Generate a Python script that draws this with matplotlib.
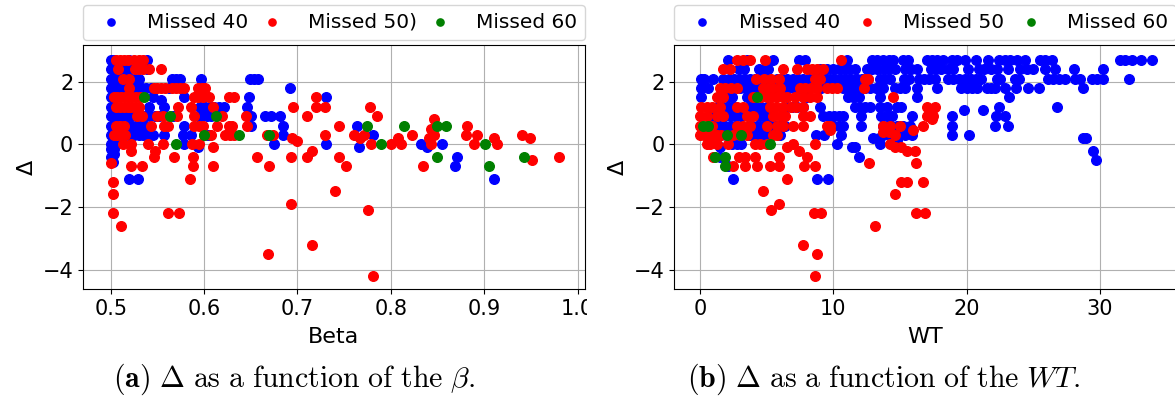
import matplotlib
matplotlib.use("Agg")
import matplotlib.pyplot as plt
from matplotlib.patches import Rectangle

plt.rcParams['mathtext.fontset'] = 'cm'

# ---------------- data (Delta value -> list of x positions) ----------------
# Left panel: Delta vs Beta
beta_missed40 = {
    2.7: [0.500, 0.503, 0.520, 0.539],
    2.4: [0.500, 0.503, 0.507, 0.511, 0.515, 0.519, 0.539],
    2.1: [0.500, 0.503, 0.506, 0.510, 0.514, 0.518, 0.522, 0.526, 0.530, 0.566, 0.570, 0.574, 0.597, 0.649, 0.653, 0.658],
    1.8: [0.500, 0.503, 0.506, 0.510, 0.514, 0.518, 0.522, 0.526, 0.530, 0.534, 0.538, 0.543, 0.562, 0.692],
    1.5: [0.500, 0.545, 0.579, 0.648, 0.731],
    1.4: [0.554],
    1.2: [0.500, 0.503, 0.541, 0.557, 0.596, 0.601, 0.606, 0.611, 0.616, 0.621, 0.646],
    0.9: [0.500, 0.503, 0.507, 0.512, 0.517, 0.522, 0.527, 0.532, 0.537, 0.542, 0.547, 0.552, 0.567, 0.593, 0.598, 0.603, 0.607, 0.650, 0.665, 0.672, 0.681],
    0.6: [0.500, 0.503, 0.518, 0.523, 0.528, 0.533, 0.538, 0.579, 0.650, 0.684, 0.764],
    0.3: [0.500, 0.503, 0.507, 0.511, 0.515, 0.520, 0.525, 0.530, 0.535, 0.540, 0.545, 0.557, 0.577, 0.586, 0.602, 0.605, 0.684, 0.781],
    0.0: [0.500, 0.503, 0.506, 0.579, 0.675, 0.731, 0.832, 0.855],
    -0.1: [0.593, 0.766, 0.839],
    -0.15: [0.500, 0.503],
    -0.3: [0.503],
    -0.4: [0.500, 0.871],
    -0.55: [0.502],
    -0.7: [0.869],
    -1.1: [0.520, 0.529, 0.910],
}
beta_missed50 = {
    2.7: [0.506, 0.510, 0.514, 0.518, 0.525, 0.530, 0.535],
    2.4: [0.508, 0.526, 0.530, 0.535, 0.541, 0.554],
    2.1: [0.513, 0.520],
    1.8: [0.520, 0.546, 0.550, 0.554, 0.558, 0.566, 0.570, 0.574, 0.579, 0.594, 0.598, 0.601],
    1.5: [0.503, 0.507, 0.511, 0.515, 0.519, 0.523, 0.527, 0.531, 0.589, 0.594, 0.599, 0.605, 0.627, 0.632, 0.720],
    1.2: [0.506, 0.510, 0.514, 0.518, 0.522, 0.526, 0.530, 0.572, 0.586, 0.610, 0.695, 0.720, 0.730, 0.778],
    0.9: [0.528, 0.533, 0.550, 0.556, 0.571, 0.589, 0.619, 0.645, 0.710, 0.785],
    0.8: [0.846],
    0.6: [0.506, 0.510, 0.514, 0.543, 0.557, 0.561, 0.589, 0.595, 0.599, 0.614, 0.627, 0.630, 0.646, 0.745, 0.882],
    0.5: [0.843],
    0.3: [0.503, 0.507, 0.511, 0.515, 0.600, 0.607, 0.622, 0.628, 0.632, 0.667, 0.674, 0.730, 0.761, 0.771, 0.823, 0.846, 0.881, 0.892, 0.940],
    0.2: [0.694, 0.767, 0.808, 0.841, 0.911, 0.949],
    0.1: [0.700],
    0.0: [0.513, 0.522, 0.540, 0.556, 0.587, 0.595, 0.779, 0.800, 0.811, 0.843, 0.889, 0.914],
    -0.1: [0.610],
    -0.2: [0.522, 0.547, 0.716],
    -0.4: [0.546, 0.568, 0.588, 0.657, 0.693, 0.710, 0.744, 0.980],
    -0.5: [0.951],
    -0.6: [0.500],
    -0.7: [0.522, 0.534, 0.588, 0.610, 0.669, 0.752, 0.835],
    -1.1: [0.585],
    -1.2: [0.502],
    -1.5: [0.740],
    -1.6: [0.502],
    -1.9: [0.693],
    -2.1: [0.776],
    -2.2: [0.502, 0.561, 0.573],
    -2.6: [0.511],
    -3.2: [0.716],
    -3.5: [0.668],
    -4.2: [0.781],
}
beta_missed60 = {
    1.5: [0.536],
    0.9: [0.563, 0.613],
    0.6: [0.774, 0.814, 0.849, 0.859],
    0.3: [0.600, 0.637, 0.669],
    0.0: [0.570, 0.789, 0.901],
    -0.4: [0.849, 0.943],
    -0.7: [0.905],
}

# Right panel: Delta vs WT
wt_missed40 = {
    2.7: [2.1, 3.5, 5.45, 7.4, 7.9, 11.0, 12.9, 13.3, 13.75, 14.2, 14.5, 15.2, 15.6, 17.0, 17.4, 17.8, 18.25, 18.9, 19.3, 19.9, 20.7, 21.6, 22.4, 22.9, 23.25, 23.75, 24.4, 25.5, 25.9, 26.4, 31.5, 31.9, 32.4, 33.1, 33.9],
    2.4: [2.9, 3.3, 4.4, 4.8, 5.1, 9.0, 9.5, 10.0, 10.4, 10.8, 11.2, 11.6, 12.5, 12.9, 13.3, 13.7, 14.1, 14.6, 15.4, 15.8, 16.3, 17.3, 17.7, 18.1, 18.6, 19.0, 20.1, 20.9, 21.3, 21.8, 22.25, 23.1, 24.0, 24.5, 25.0, 25.9, 26.6, 28.05, 30.2],
    2.1: [0.05, 0.3, 1.0, 1.75, 2.15, 2.55, 2.95, 3.35, 3.75, 4.15, 4.55, 5.0, 5.75, 6.15, 6.55, 6.95, 7.35, 7.75, 8.15, 8.55, 8.95, 9.35, 9.75, 10.15, 10.55, 10.95, 11.35, 11.75, 12.15, 12.6, 13.5, 13.9, 14.25, 15.3, 15.7, 16.4, 16.8, 17.2, 17.6, 18.6, 19.0, 19.4, 19.9, 20.3, 20.7, 21.1, 22.25, 22.5, 23.6, 23.9, 26.1, 26.5, 26.9, 27.4, 28.1, 28.5, 29.4, 29.8, 30.25, 32.2],
    1.8: [0.05, 0.6, 3.0, 3.4, 3.8, 4.2, 4.6, 5.0, 5.4, 6.3, 6.7, 7.1, 7.5, 9.1, 10.75, 11.15, 11.55, 11.95, 12.35, 12.75, 13.2, 13.75, 14.6, 15.0, 15.4, 16.25, 17.8, 19.6, 20.0, 20.4, 20.75, 21.5, 21.8, 22.1, 22.9, 23.7, 24.6, 25.45, 28.75],
    1.5: [0.05, 2.0, 2.4, 3.5, 3.9, 8.0, 11.1, 11.5, 11.9, 13.5, 16.25, 23.2],
    1.2: [1.25, 1.75, 2.15, 2.55, 3.75, 4.15, 4.55, 5.0, 6.5, 6.9, 7.3, 7.7, 9.0, 11.6, 12.0, 12.4, 12.75, 13.5, 14.0, 14.75, 15.1, 22.4, 26.8],
    1.1: [19.8, 21.2],
    0.9: [0.75, 1.2, 2.25, 2.65, 3.05, 4.5, 4.9, 5.25, 6.25, 9.25, 9.65, 10.05, 10.45, 10.75, 12.1, 13.6, 14.0, 14.4, 15.9, 18.9, 22.2, 22.9],
    0.6: [1.1, 1.5, 1.9, 2.3, 2.75, 3.75, 4.25, 4.75, 5.25, 5.65, 6.0, 6.4, 10.0, 10.4, 10.75, 12.1, 13.75, 14.25, 14.75, 15.25, 15.75, 18.9, 22.1, 23.1],
    0.3: [1.5, 1.95, 3.75, 4.15, 4.55, 4.95, 5.25, 6.0, 8.7, 9.3, 10.6, 13.75, 14.25, 14.75, 15.4, 15.9, 18.9, 20.2],
    0.2: [13.0, 13.4, 28.75, 28.95],
    0.15: [14.75],
    0.0: [2.4, 2.8, 3.1, 10.25, 13.5],
    -0.1: [1.5, 11.4, 11.6],
    -0.2: [29.5],
    -0.4: [1.5, 11.9],
    -0.5: [29.7],
    -0.7: [2.1],
    -1.1: [2.5, 8.8, 9.6],
}
wt_missed50 = {
    2.7: [2.75, 3.25, 3.75, 4.9, 10.55],
    2.4: [1.75, 2.25, 6.25, 7.25, 8.0, 8.4, 8.8, 9.25],
    2.1: [4.2, 4.8, 5.3, 5.9, 8.6, 9.0, 12.4, 12.6],
    1.8: [1.5, 1.9, 2.3, 2.75, 4.75, 5.1, 5.5, 6.0, 7.5, 7.9, 8.3, 8.75, 9.5, 9.9, 10.25, 12.3],
    1.5: [1.25, 1.75, 4.0, 4.6, 5.0, 5.4, 5.8, 6.2, 6.5, 7.1, 7.75, 8.25, 8.75, 14.5],
    1.2: [0.1, 0.5, 0.9, 1.5, 2.75, 3.2, 5.25, 5.7, 6.25, 6.8, 7.2, 7.75, 17.0, 17.6],
    1.1: [17.4],
    0.9: [0.0, 0.5, 1.25, 1.75, 3.5, 4.0, 5.5, 6.0, 6.4, 7.75, 8.25, 17.0, 17.5],
    0.8: [17.4],
    0.6: [0.0, 0.5, 0.9, 2.75, 3.25, 3.75, 5.0, 5.75, 6.25, 7.0, 7.75, 9.5, 9.75, 13.75, 14.25, 15.0, 16.75],
    0.45: [9.75, 16.0],
    0.4: [13.75, 14.2],
    0.3: [0.0, 0.3, 0.6, 0.9, 1.25, 1.6, 2.5, 3.0, 3.5, 5.5, 5.8, 14.6],
    0.0: [0.5, 0.75, 1.25, 2.1, 4.1, 4.5, 5.0, 7.0, 8.6, 14.25],
    -0.1: [6.5, 14.6, 15.1],
    -0.2: [7.4, 15.5, 16.1],
    -0.4: [1.0, 2.9, 3.4, 4.1, 5.9, 8.0],
    -0.6: [12.7, 16.2],
    -0.7: [2.5, 3.4, 4.3, 5.25, 5.9, 7.8, 8.6],
    -1.1: [6.5],
    -1.2: [15.1, 15.5, 16.7],
    -1.5: [4.7],
    -1.6: [14.6],
    -1.9: [5.9],
    -2.1: [5.3],
    -2.2: [8.55, 9.1, 16.2, 16.9],
    -2.6: [13.1],
    -3.2: [7.75],
    -3.5: [8.8],
    -4.2: [8.6],
}
wt_missed60 = {
    1.5: [4.25],
    0.6: [0.25, 0.6],
    0.3: [2.0, 3.1],
    0.0: [5.25],
    -0.4: [1.1, 1.9],
    -0.7: [1.9],
}

labels_left = ["Missed 40", "Missed 50)", "Missed 60"]
labels_right = ["Missed 40", "Missed 50", "Missed 60"]
colors = ["blue", "red", "green"]


def unpack(rows):
    xs, ys = [], []
    for yv, xlist in rows.items():
        for xv in xlist:
            xs.append(xv)
            ys.append(yv)
    return xs, ys


W, H = 1175, 408
fig = plt.figure(figsize=(W / 100, H / 100), dpi=100)

axL = fig.add_axes([83 / W, 1 - 289.3 / H, 502 / W, 244.6 / H])
axR = fig.add_axes([674.3 / W, 1 - 289.3 / H, 502 / W, 244.6 / H])

for ax, series, labels, xlabel in [
    (axL, [beta_missed40, beta_missed50, beta_missed60], labels_left, "Beta"),
    (axR, [wt_missed40, wt_missed50, wt_missed60], labels_right, "WT"),
]:
    for rows, c, lab in zip(series, colors, labels):
        xs, ys = unpack(rows)
        ax.scatter(xs, ys, s=48, c=c, label=lab, zorder=3)
    ax.grid(True, color="#b0b0b0", linewidth=0.8)
    ax.set_axisbelow(True)
    ax.set_ylim(-4.63, 3.18)
    ax.set_yticks([-4, -2, 0, 2])
    ax.tick_params(labelsize=15)
    ax.set_xlabel(xlabel, fontsize=16, labelpad=6)
    ax.set_ylabel("Δ", fontsize=16)
    ax.legend(bbox_to_anchor=(0.0, 1.02, 1.0, 0.102), loc="lower left", ncol=3,
              mode="expand", borderaxespad=0.0, fontsize=14.5, markerscale=0.75,
              handletextpad=0.8)

axL.set_xlim(0.4703, 1.008)
axL.set_xticks([0.5, 0.6, 0.7, 0.8, 0.9, 1.0])
axR.set_xlim(-1.93, 35.73)
axR.set_xticks([0, 10, 20, 30])

# the left sub-figure is trimmed just right of its axes (clips the "1.0" label)
fig.add_artist(Rectangle((587 / W, 0.0), 10 / W, 1 - 292 / H, transform=fig.transFigure,
                         facecolor="white", edgecolor="none", zorder=10))

fig.text(294 / W, 1 - 379 / H, r"$\mathbf{(a)}\ \Delta\ \mathrm{as\ a\ function\ of\ the}\ \beta.$",
         ha="center", va="center", fontsize=21.5)
fig.text(884 / W, 1 - 379 / H, r"$\mathbf{(b)}\ \Delta\ \mathrm{as\ a\ function\ of\ the}\ WT.$",
         ha="center", va="center", fontsize=21.5)

fig.savefig("out.png", dpi=100)
